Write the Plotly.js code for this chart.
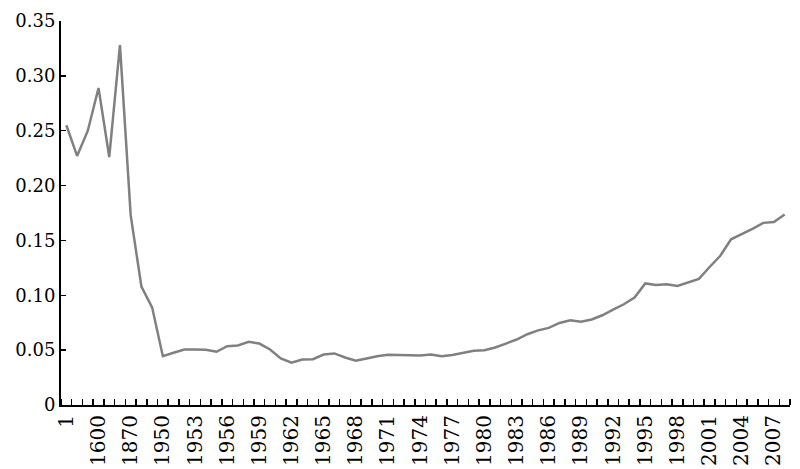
<!DOCTYPE html>
<html>
<head>
<meta charset="utf-8">
<script src="https://cdn.plot.ly/plotly-3.0.1.min.js"></script>
<style>
  html, body { margin: 0; padding: 0; background: #fff; }
  #chart { width: 800px; height: 469px; }
</style>
</head>
<body>
<div id="chart"></div>
<script>
// ======== DATA ========
var years = ['1', '1000', '1500', '1600', '1700', '1820', '1870', '1913', '1940',
  '1950', '1951', '1952', '1953', '1954', '1955', '1956', '1957', '1958', '1959',
  '1960', '1961', '1962', '1963', '1964', '1965', '1966', '1967', '1968', '1969',
  '1970', '1971', '1972', '1973', '1974', '1975', '1976', '1977', '1978', '1979',
  '1980', '1981', '1982', '1983', '1984', '1985', '1986', '1987', '1988', '1989',
  '1990', '1991', '1992', '1993', '1994', '1995', '1996', '1997', '1998', '1999',
  '2000', '2001', '2002', '2003', '2004', '2005', '2006', '2007', '2008'];

var values = [0.255, 0.227, 0.250, 0.289, 0.226, 0.328, 0.173, 0.108, 0.089,
  0.0445, 0.0476, 0.0506, 0.0506, 0.0503, 0.0485, 0.0536, 0.0542, 0.0576, 0.0560,
  0.0506, 0.0424, 0.0385, 0.0415, 0.0418, 0.0460, 0.0470, 0.0433, 0.0403, 0.0424,
  0.0445, 0.0458, 0.0458, 0.0452, 0.0452, 0.0460, 0.0445, 0.0455, 0.0476, 0.0494,
  0.0500, 0.0524, 0.0560, 0.0597, 0.0645, 0.0680, 0.0703, 0.0748, 0.0773, 0.0758,
  0.0779, 0.0818, 0.0870, 0.0918, 0.0980, 0.1108, 0.1094, 0.1100, 0.1085, 0.1118,
  0.1150, 0.1258, 0.1360, 0.1510, 0.1555, 0.1606, 0.1660, 0.1667, 0.1736];

var yTickVals = [0, 0.05, 0.10, 0.15, 0.20, 0.25, 0.30, 0.35];
var yTickText = ['0', '0.05', '0.10', '0.15', '0.20', '0.25', '0.30', '0.35'];

// every third year gets a label, every category gets a tick at its boundary
var xIdx = years.map(function (y, i) { return i; });
var xTickVals = xIdx.filter(function (i) { return i % 3 === 0; });
var xTickText = xTickVals.map(function (i) { return years[i]; });
var xBounds = xIdx.map(function (i) { return i - 0.5; }).concat([years.length - 0.5]);

// ======== PLOTLY ========
var trace = {
  x: xIdx,
  y: values,
  type: 'scatter',
  mode: 'lines',
  line: { color: '#808080', width: 2.5 },
  hoverinfo: 'y',
  text: years
};

var layout = {
  width: 800,
  height: 469,
  margin: { l: 61, r: 10, t: 21, b: 64, pad: 0 },
  showlegend: false,
  plot_bgcolor: '#fff',
  paper_bgcolor: '#fff',
  font: { family: 'DejaVu Serif, serif', color: '#000' },
  xaxis: {
    range: [-0.5, years.length - 0.5],
    showgrid: false,
    zeroline: false,
    showline: true,
    linecolor: '#000',
    linewidth: 2,
    tickmode: 'array',
    tickvals: xTickVals,
    ticktext: xTickText,
    ticks: '',
    tickangle: -90,
    tickfont: { size: 20, family: 'DejaVu Serif, serif' },
    minor: {
      tickmode: 'array',
      tickvals: xBounds,
      ticks: 'inside',
      ticklen: 6,
      tickwidth: 1.5,
      tickcolor: '#000',
      showgrid: false
    }
  },
  yaxis: {
    range: [0, 0.35],
    showgrid: false,
    zeroline: false,
    showline: true,
    linecolor: '#000',
    linewidth: 2,
    tickmode: 'array',
    tickvals: yTickVals,
    ticktext: yTickText,
    ticks: 'inside',
    ticklen: 5,
    tickwidth: 1.5,
    tickcolor: '#000',
    tickfont: { size: 18, family: 'DejaVu Serif, serif' }
  }
};

Plotly.newPlot('chart', [trace], layout, { displayModeBar: false, staticPlot: true });
</script>
</body>
</html>
